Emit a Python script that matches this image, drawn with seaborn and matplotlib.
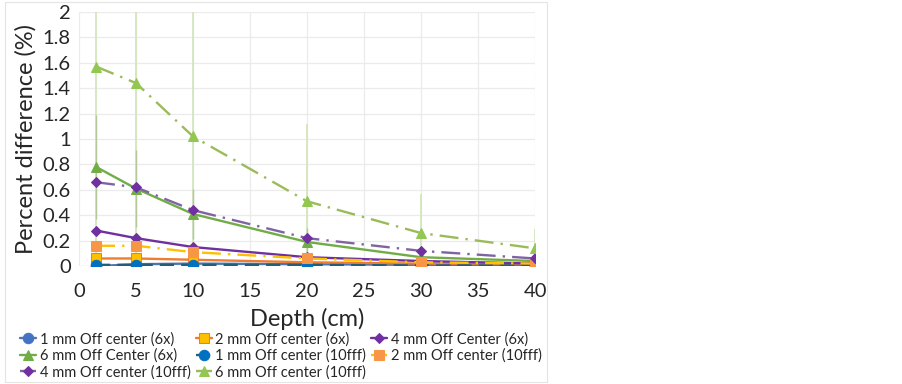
import matplotlib
matplotlib.use("Agg")
import matplotlib.pyplot as plt
import matplotlib.patches as patches
import numpy as np
import pandas as pd
import seaborn as sns

# profundidades (cm)
depth = [1.5, 5, 10, 20, 30, 40]

# diferenca percentual por serie
off1_6x = [0.00, 0.015, 0.02, 0.015, 0.01, 0.01]
off2_6x = [0.06, 0.06, 0.05, 0.03, 0.02, 0.02]
off4_6x = [0.28, 0.22, 0.15, 0.07, 0.04, 0.02]
off6_6x = [0.78, 0.61, 0.41, 0.19, 0.07, 0.04]
off1_10fff = [0.01, 0.01, 0.01, 0.01, 0.005, 0.005]
off2_10fff = [0.16, 0.16, 0.11, 0.06, 0.03, 0.02]
off4_10fff = [0.66, 0.62, 0.44, 0.22, 0.12, 0.06]
off6_10fff = [1.57, 1.44, 1.02, 0.51, 0.26, 0.14]

# barras de erro (so visiveis nas series de 6 mm)
err6_6x = [0.41, 0.30, 0.20, 0.11, 0.05, 0.03]
err6_10fff = [1.50, 1.40, 1.02, 0.61, 0.31, 0.15]

labels = ["1 mm Off center (6x)", "2 mm Off center (6x)", "4 mm Off Center (6x)",
          "6 mm Off Center (6x)", "1 mm Off center (10fff)", "2 mm Off center (10fff)",
          "4 mm Off center (10fff)", "6 mm Off center (10fff)"]
yticks = [0, 0.2, 0.4, 0.6, 0.8, 1, 1.2, 1.4, 1.6, 1.8, 2]
xticks = [0, 5, 10, 15, 20, 25, 30, 35, 40]

sns.set_theme(style="white")
plt.rcParams['font.family'] = ['Lato', 'DejaVu Sans']

fig = plt.figure(figsize=(9.03, 3.84), dpi=100)
ax = fig.add_axes([0.0875, 0.307, 0.505, 0.662])

# moldura do grafico
fig.patches.append(patches.Rectangle((0.006, 0.005), 0.6, 0.99, transform=fig.transFigure,
                                     fill=False, edgecolor="#E4E4E4", lw=0.8))

dd = (8, 3, 1, 3)
estilos = [
    # (dados, cor linha, marcador, face, borda, dashes)
    (off1_6x, "#5174B0", "o", "#4472C4", "#4472C4", None),
    (off2_6x, "#ED7D31", "s", "#FFC000", "#ED7D31", None),
    (off4_6x, "#7030A0", "D", "#7030A0", "#7030A0", None),
    (off6_6x, "#70AD47", "^", "#70AD47", "#70AD47", None),
    (off1_10fff, "#1F5F7A", "o", "#0070C0", "#0070C0", (6, 3)),
    (off2_10fff, "#FFC000", "s", "#F79646", "#F79646", dd),
    (off4_10fff, "#8064A2", "D", "#7030A0", "#7030A0", dd),
    (off6_10fff, "#9BBB59", "^", "#92C852", "#92C852", dd),
]

# barras de erro
ax.errorbar(depth, off6_10fff, yerr=err6_10fff, fmt="none", ecolor="#D3E6BC", elinewidth=1.3, zorder=1)
ax.errorbar(depth, off6_6x, yerr=err6_6x, fmt="none", ecolor="#B4C99A", elinewidth=1.0, zorder=1)

handles = []
for (vals, cor, mk, face, borda, dsh), lab in zip(estilos, labels):
    df = pd.DataFrame({"depth": depth, "val": vals})
    sns.lineplot(data=df, x="depth", y="val", ax=ax, color=cor, lw=1.7,
                 marker=mk, markersize=7.5 if mk != "D" else 5.5,
                 markerfacecolor=face, markeredgecolor=borda, label=lab, zorder=3)
    line = ax.get_lines()[-1]
    if dsh is not None:
        line.set_dashes(dsh)
    handles.append(line)

ax.set_xlim(0, 40)
ax.set_ylim(0, 2)
ax.set_xticks(xticks)
ax.set_yticks(yticks)
ax.set_yticklabels([f"{v:g}" for v in yticks])
ax.tick_params(axis="both", labelsize=14.5, length=0)
ax.tick_params(axis="x", pad=12)
ax.tick_params(axis="y", pad=6)
ax.grid(True, color="#EBEBEB", lw=0.9)
for s in ax.spines.values():
    s.set_visible(False)
ax.axhline(0, color="#D9D9D9", lw=0.9, zorder=0)

ax.set_xlabel("Depth (cm)", fontsize=17, labelpad=6)
ax.set_ylabel("Percent difference (%)", fontsize=17, labelpad=4)

ordem = [0, 3, 6, 1, 4, 7, 2, 5]
ax.legend([handles[i] for i in ordem], [labels[i] for i in ordem], ncol=3,
          loc="upper left", bbox_to_anchor=(0.022, 0.135), bbox_transform=fig.transFigure,
          frameon=False, fontsize=10.5, handlelength=1.1, handletextpad=0.25,
          columnspacing=0.35, labelspacing=0.15, borderaxespad=0, borderpad=0)

fig.savefig("out.png", dpi=100)
